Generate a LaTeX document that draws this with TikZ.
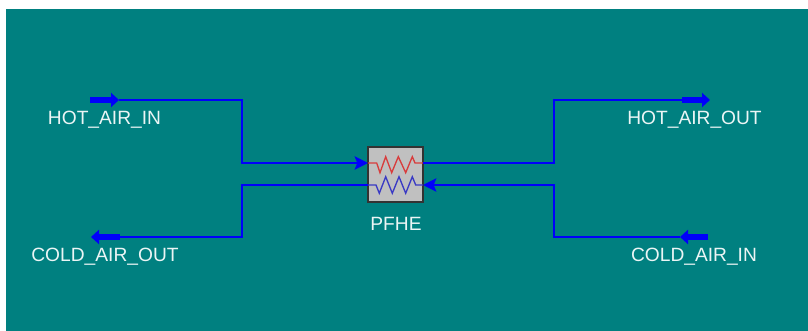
\documentclass[tikz,border=0pt]{standalone}
\usepackage{fontspec}
\setmainfont{Liberation Sans}
\usepackage{xcolor}
\usetikzlibrary{arrows.meta}

\definecolor{flowsheet}{HTML}{008080}
\definecolor{streamblue}{HTML}{0000FA}
\definecolor{boxgrey}{HTML}{C0C0C0}
\definecolor{hotcoil}{HTML}{D83C3C}
\definecolor{coldcoil}{HTML}{3A3AC4}

\tikzset{
	stream/.style={draw=streamblue, line width=1.7},
	streamhead/.style={stream, -{Stealth[length=10, width=10, inset=2]}},
	stub/.style={draw=streamblue, line width=4.5, -{Stealth[length=6, width=10.5, inset=0]}},
	streamlabel/.style={text=white!92!flowsheet, font=\fontsize{14.4}{17}\selectfont, inner sep=0},
	coil/.style={line width=1, line join=miter}
}

\begin{document}
\begin{tikzpicture}[x=0.75pt, y=-0.75pt]

\useasboundingbox (0,0) rectangle (808,331);
\fill[white] (0,0) rectangle (808,331);
\fill[flowsheet] (6,9) rectangle (808,331);

% exchanger
\node[draw=black!80, fill=boxgrey, line width=1, minimum width=41.25pt, minimum height=41.25pt, inner sep=0] (pfhe) at (395.5,174.5) {};

\coordinate (hotport) at (368,163);
\coordinate (coldport) at (368,185);
\coordinate (hotexit) at (423,163);
\coordinate (coldentry) at (423,185);

\draw[coil, color=hotcoil] (hotport)--(376.7,163)--(380,172.7)--(385.7,156.7)--(391.7,172.7)--(398.3,156.7)--(405.7,172.7)--(412.3,156.7)--(415,163)--(hotexit);
\draw[coil, color=coldcoil] (coldport)--(376,185)--(379.3,193.3)--(385.7,176.7)--(392.3,193.3)--(399,176.7)--(405.7,193.3)--(412.3,176.7)--(415.7,185)--(coldentry);

% stream ends
\coordinate (hotinstart) at (90,100);
\coordinate (hotintip) at (119,100);
\coordinate (hotoutstart) at (682,100);
\coordinate (hotouttip) at (710,100);
\coordinate (coldoutstart) at (120,237);
\coordinate (coldouttip) at (91,237);
\coordinate (coldinstart) at (708,237);
\coordinate (coldintip) at (680,237);

\draw[stub] (hotinstart)--(hotintip);
\draw[stub] (hotoutstart)--(hotouttip);
\draw[stub] (coldoutstart)--(coldouttip);
\draw[stub] (coldinstart)--(coldintip);

% streams
\draw[streamhead] (hotintip)--(242,100)--(242,163)--(hotport);
\draw[stream] (hotexit)--(554,163)--(554,100)--(hotoutstart);
\draw[streamhead] (coldintip)--(554,237)--(554,185)--(coldentry);
\draw[stream] (coldport)--(242,185)--(242,237)--(coldoutstart);

% labels
\node[streamlabel] (hotinlabel) at (104.5,120) {HOT\_AIR\_IN};
\node[streamlabel] (hotoutlabel) at (694.5,120) {HOT\_AIR\_OUT};
\node[streamlabel] (coldoutlabel) at (105,257) {COLD\_AIR\_OUT};
\node[streamlabel] (coldinlabel) at (694,257) {COLD\_AIR\_IN};
\node[streamlabel] (pfhelabel) at (396,224) {PFHE};

\end{tikzpicture}
\end{document}
